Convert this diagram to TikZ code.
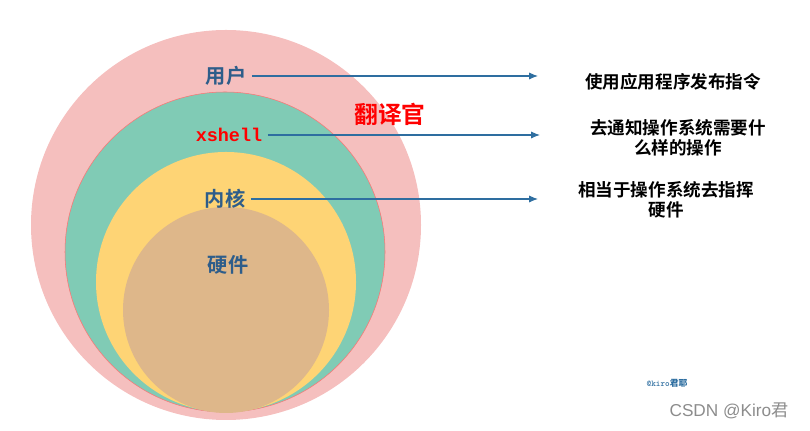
\documentclass[tikz,border=0pt]{standalone}
\usepackage{fontspec}
\usetikzlibrary{arrows.meta}
\newfontfamily\cjk{Noto Sans CJK SC}
\newfontfamily\cjkbold{Noto Sans CJK SC Bold}
\newfontfamily\shellmono{Liberation Mono}
\setsansfont{Liberation Sans}
\definecolor{shellpink}{RGB}{245,191,190}
\definecolor{shellgreen}{RGB}{128,203,181}
\definecolor{shellyellow}{RGB}{254,212,117}
\definecolor{shelltan}{RGB}{222,183,138}
\definecolor{labelblue}{RGB}{46,93,138}
\definecolor{arrowblue}{RGB}{46,110,160}
\begin{document}
\begin{tikzpicture}[x=0.02cm,y=0.02cm,
  every node/.style={inner sep=3pt},
  layer/.style={font=\cjkbold\fontsize{11.5}{13}\selectfont,text=labelblue},
  note/.style={font=\cjkbold\fontsize{10}{11.5}\selectfont,align=center},
  pointer/.style={-{Latex[length=5pt,width=4pt]},draw=arrowblue,line width=0.6pt}]
\useasboundingbox (0,0) rectangle (810,431);
% rings
\fill[shellpink] (226,206) circle (195);
\filldraw[fill=shellgreen,draw=red!55,line width=0.3pt] (225,179) circle (160);
\fill[shellyellow] (226,149) circle (130);
\fill[shelltan] (226,121) circle (103);
% labels
\node[layer] (user) at (226,355) {用户};
\node[font=\shellmono\bfseries\fontsize{10.5}{12}\selectfont,text=red] (shell) at (229,296) {xshell};
\node[font=\cjkbold\fontsize{13.5}{15}\selectfont,text=red] (trans) at (390,317) {翻译官};
\node[layer] (kernel) at (225,232) {内核};
\node[layer] (hw) at (228,166) {硬件};
% notes
\node[note] (n1) at (673,349) {使用应用程序发布指令};
\node[note] (n2) at (678,293) {去通知操作系统需要什\\么样的操作};
\node[note] (n3) at (666,231) {相当于操作系统去指挥\\硬件};
\coordinate (e1) at (538,355);
\coordinate (e2) at (540,296);
\coordinate (e3) at (538,232);
\draw[pointer] (user.east)--(e1);
\draw[pointer] (shell.east)--(e2);
\draw[pointer] (kernel.east)--(e3);
% marks
\node[font=\ttfamily\bfseries\fontsize{5}{6}\selectfont,text=arrowblue,inner sep=0pt] (tag) at (667,48) {@kiro{\cjk 君耶}};
\node[font=\sffamily\fontsize{9.8}{11}\selectfont,text=black!45,inner sep=0pt] (csdn) at (729,20) {CSDN @Kiro{\cjk 君}};
\end{tikzpicture}
\end{document}
